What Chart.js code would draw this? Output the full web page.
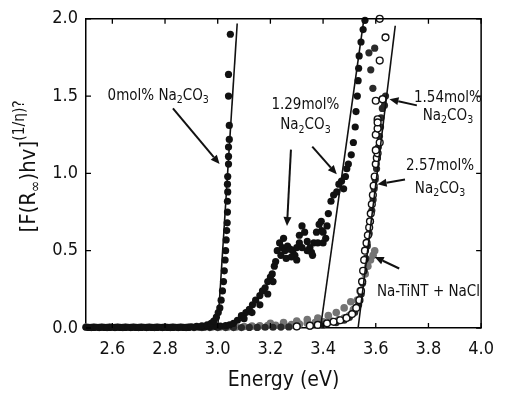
<!DOCTYPE html>
<html><head><meta charset="utf-8">
<script src="https://cdn.jsdelivr.net/npm/chart.js@4/dist/chart.umd.min.js"></script>
<style>html,body{margin:0;padding:0;background:#fff}#wrap{width:505px;height:395px}</style>
</head><body><div id="wrap"><canvas id="c" width="505" height="395"></canvas></div>
<script>
// ---------- tick labels ----------
const xTicks = [2.6,2.8,3.0,3.2,3.4,3.6,3.8,4.0];
const yTicks = [0,0.5,1.0,1.5,2.0];

// ---------- 0 mol% Na2CO3 ----------
const E0 = [2.50,2.52,2.54,2.56,2.58,2.60,2.62,2.64,2.66,2.68,
 2.70,2.72,2.74,2.76,2.78,2.80,2.82,2.84,2.86,2.88,
 2.90,2.92,2.94,2.96,2.975,2.985,2.995,3.002,3.008,3.013,
 3.018,3.022,3.025,3.028,3.03,3.032,3.034,3.036,3.037,3.037,
 3.038,3.037,3.038,3.041,3.041,3.041,3.044,3.044,3.041,3.041,
 3.048];
const V0 = [0.005,0.005,0.005,0.005,0.005,0.005,0.005,0.005,0.005,0.005,
 0.005,0.005,0.005,0.005,0.005,0.005,0.005,0.005,0.005,0.005,
 0.008,0.01,0.014,0.02,0.03,0.045,0.07,0.10,0.13,0.18,
 0.24,0.30,0.37,0.44,0.50,0.57,0.63,0.68,0.75,0.82,
 0.88,0.93,0.98,1.06,1.11,1.17,1.22,1.31,1.50,1.64,
 1.90];

// ---------- 1.29 mol% Na2CO3 ----------
const E1 = [2.51,2.53,2.55,2.57,2.59,2.61,2.63,2.65,2.67,2.69,
 2.71,2.73,2.75,2.77,2.79,2.81,2.83,2.85,2.87,2.89,
 2.91,2.93,2.95,2.97,2.99,3.01,3.03,3.045,3.06,3.075,
 3.09,3.107,3.12,3.132,3.144,3.16,3.17,3.18,3.19,3.20,
 3.207,3.215,3.22,3.226,3.235,3.245,3.255,3.265,3.275,3.285,
 3.293,3.30,3.31,3.32,3.33,3.34,3.35,3.356,3.365,3.375,
 3.385,3.393,3.40,3.41,3.415,3.42,3.43,3.44,3.452,3.46,
 3.47,3.478,3.485,3.49,3.496,3.507,3.515,3.522,3.525,3.53,
 3.533,3.535,3.537,3.544,3.552,3.559,
 3.10,3.13,3.16,3.19,3.21,3.24,3.26,3.28,3.30,3.32,
 3.34,3.36,3.38,3.40,3.25,3.31,3.395];
const V1 = [0.004,0.004,0.004,0.004,0.004,0.004,0.004,0.004,0.004,0.004,
 0.004,0.004,0.004,0.004,0.004,0.004,0.004,0.004,0.004,0.004,
 0.005,0.006,0.007,0.008,0.01,0.012,0.015,0.02,0.03,0.05,
 0.08,0.10,0.12,0.15,0.18,0.21,0.24,0.26,0.30,0.33,
 0.35,0.40,0.43,0.50,0.55,0.52,0.50,0.53,0.51,0.50,
 0.47,0.52,0.60,0.66,0.62,0.56,0.52,0.49,0.55,0.62,
 0.67,0.69,0.62,0.58,0.66,0.74,0.82,0.86,0.88,0.93,
 0.95,0.90,0.98,1.03,1.06,1.12,1.20,1.30,1.40,1.50,
 1.60,1.68,1.76,1.85,1.93,1.99,
 0.06,0.10,0.15,0.22,0.30,0.47,0.45,0.46,0.44,0.52,
 0.50,0.47,0.55,0.55,0.58,0.55,0.63];

// ---------- 1.54 mol% Na2CO3 (open circles) ----------
const E3 = [3.30,3.35,3.38,3.415,3.44,3.465,3.489,3.51,3.526,3.538,
 3.544,3.548,3.552,3.556,3.559,3.565,3.57,3.575,3.578,3.581,
 3.585,3.589,3.592,3.596,3.60,3.604,3.607,3.600,3.615,3.600,
 3.607,3.607,3.600,3.626,3.607,3.615,3.637,3.615];
const V3 = [0.01,0.015,0.02,0.03,0.04,0.05,0.065,0.09,0.13,0.18,
 0.24,0.30,0.37,0.44,0.50,0.55,0.60,0.65,0.69,0.74,
 0.80,0.86,0.92,0.98,1.06,1.10,1.13,1.15,1.20,1.25,
 1.29,1.35,1.47,1.48,1.33,1.73,1.88,2.0];

// ---------- 2.57 mol% Na2CO3 ----------
const E2 = [2.52,2.55,2.58,2.61,2.64,2.67,2.70,2.73,2.76,2.79,
 2.82,2.85,2.88,2.91,2.94,2.97,3.00,3.03,3.06,3.09,
 3.12,3.15,3.18,3.21,3.24,3.27,3.30,3.35,3.40,3.45,
 3.48,3.50,3.52,3.535,3.545,3.55,3.556,3.562,3.568,3.575,
 3.58,3.585,3.59,3.594,3.598,3.603,3.606,3.61,3.614,3.618,
 3.62,3.625,3.633,3.637,3.589,3.581,3.574,3.596];
const V2 = [0.003,0.003,0.003,0.003,0.003,0.003,0.003,0.003,0.003,0.003,
 0.003,0.003,0.003,0.003,0.003,0.003,0.003,0.003,0.003,0.003,
 0.004,0.004,0.005,0.005,0.006,0.007,0.008,0.012,0.02,0.035,
 0.05,0.07,0.10,0.15,0.22,0.29,0.37,0.45,0.53,0.61,
 0.69,0.76,0.83,0.90,0.96,1.03,1.10,1.17,1.24,1.30,
 1.36,1.42,1.44,1.50,1.55,1.67,1.78,1.81];

// ---------- Na-TiNT + NaCl ----------
const E4 = [2.50,2.53,2.56,2.59,2.62,2.65,2.68,2.71,2.74,2.77,
 2.80,2.83,2.86,2.89,2.92,2.95,2.98,3.01,3.04,3.07,
 3.10,3.13,3.16,3.19,3.22,3.25,3.28,3.31,3.34,3.37,
 3.40,3.43,3.46,3.48,3.50,3.515,3.53,3.54,3.55,3.56,
 3.57,3.58,3.59,3.596,
 3.20,3.25,3.30,3.34,3.38,3.42,3.45,3.48,3.505];
const V4 = [0.006,0.006,0.006,0.006,0.006,0.006,0.006,0.006,0.006,0.006,
 0.006,0.006,0.006,0.006,0.006,0.006,0.006,0.006,0.006,0.006,
 0.01,0.012,0.014,0.016,0.018,0.02,0.022,0.025,0.03,0.035,
 0.04,0.045,0.055,0.065,0.08,0.12,0.18,0.24,0.30,0.35,
 0.40,0.44,0.47,0.50,
 0.03,0.035,0.045,0.055,0.065,0.08,0.10,0.13,0.17];

// ---------- linear fits (end points) ----------
const fit0E = [3.0, 3.074],   fit0V = [0, 1.97];
const fit1E = [3.39, 3.555],  fit1V = [0, 2.0];
const fit2E = [3.533, 3.674], fit2V = [0, 1.955];

// ---------- annotations (data units) ----------
const noteText = ["0mol% Na_2CO_3","1.29mol%","Na_2CO_3","1.54mol%","Na_2CO_3","2.57mol%","Na_2CO_3","Na-TiNT + NaCl"];
const noteE    = [2.774, 3.333, 3.333, 3.874, 3.874, 3.844, 3.844, 3.80];
const noteV    = [1.50, 1.44, 1.31, 1.49, 1.37, 1.045, 0.90, 0.23];
const arrowFrom = [[2.83,1.42],[3.359,1.173],[3.278,1.154],[3.756,1.44],[3.711,0.96],[3.689,0.385]];
const arrowTo   = [[3.007,1.06],[3.452,0.994],[3.263,0.66],[3.652,1.48],[3.607,0.93],[3.596,0.46]];

const FAM = "'DejaVu Sans Condensed','DejaVu Sans',sans-serif";
const INK = '#111';
const pts = (E,V) => E.map((e,i)=>({x:e,y:V[i]}));

function drawRich(ctx, str, x, y, size, align){
  const parts=[];
  for(let i=0;i<str.length;i++){
    if(str[i]==='_'){parts.push({t:str[i+1],sub:true});i++;}
    else{ if(parts.length && !parts[parts.length-1].sub && !parts[parts.length-1].sup) parts[parts.length-1].t+=str[i]; else parts.push({t:str[i]}); }
  }
  return drawParts(ctx, parts, x, y, size, align);
}
function drawParts(ctx, parts, x, y, size, align){
  let w=0;
  parts.forEach(p=>{ctx.font=((p.sub||p.sup)?size*0.7:size)+'px '+FAM; p.w=ctx.measureText(p.t).width; w+=p.w;});
  let cx = align==='center'? x-w/2 : x;
  ctx.textBaseline='middle'; ctx.textAlign='left';
  parts.forEach(p=>{
    ctx.font=((p.sub||p.sup)?size*0.7:size)+'px '+FAM;
    const dy = p.sub? size*0.3 : (p.sup? -size*0.42 : 0);
    ctx.fillText(p.t, cx, y+dy); cx+=p.w;
  });
}

const decor = {
  id:'decor',
  afterDraw(chart){
    const {ctx, chartArea:a, scales:{x,y}} = chart;
    ctx.save();
    ctx.strokeStyle='#000'; ctx.lineWidth=1.5;
    ctx.beginPath();
    ctx.moveTo(a.left,a.top); ctx.lineTo(a.right,a.top); ctx.lineTo(a.right,a.bottom);
    ctx.stroke();
    ctx.lineWidth=1.3;
    ctx.beginPath();
    xTicks.forEach(v=>{const px=x.getPixelForValue(v); ctx.moveTo(px,a.bottom); ctx.lineTo(px,a.bottom-5); ctx.moveTo(px,a.top); ctx.lineTo(px,a.top+5);});
    yTicks.forEach(v=>{const py=y.getPixelForValue(v); ctx.moveTo(a.left,py); ctx.lineTo(a.left+5,py); ctx.moveTo(a.right,py); ctx.lineTo(a.right-5,py);});
    ctx.stroke();

    ctx.fillStyle=INK;
    noteText.forEach((t,i)=>drawRich(ctx,t,x.getPixelForValue(noteE[i]),y.getPixelForValue(noteV[i]),15,'center'));
    ctx.strokeStyle=INK; ctx.lineWidth=2;
    arrowFrom.forEach((f,i)=>{
      const x1=x.getPixelForValue(f[0]), y1=y.getPixelForValue(f[1]);
      const x2=x.getPixelForValue(arrowTo[i][0]), y2=y.getPixelForValue(arrowTo[i][1]);
      const ang=Math.atan2(y2-y1,x2-x1), L=9, W=4;
      const bx=x2-L*Math.cos(ang), by=y2-L*Math.sin(ang);
      ctx.beginPath(); ctx.moveTo(x1,y1); ctx.lineTo(bx,by); ctx.stroke();
      ctx.beginPath(); ctx.moveTo(x2,y2);
      ctx.lineTo(bx+W*Math.sin(ang), by-W*Math.cos(ang));
      ctx.lineTo(bx-W*Math.sin(ang), by+W*Math.cos(ang));
      ctx.closePath(); ctx.fill();
    });

    drawParts(ctx,[{t:'Energy (eV)'}],(a.left+a.right)/2,381,21,'center');
    ctx.translate(29,(a.top+a.bottom)/2 - 7);
    ctx.rotate(-Math.PI/2);
    drawParts(ctx,[{t:'[F(R'},{t:'\u221E',sub:true},{t:')hv]'},{t:'(1/\u03B7)?',sup:true}],0,0,22,'center');
    ctx.restore();
  }
};

const dot = (label,E,V,col,r)=>({label,data:pts(E,V),pointRadius:r,pointBackgroundColor:col,pointBorderColor:col,pointBorderWidth:0,clip:false});

new Chart(document.getElementById('c'),{
  type:'scatter',
  data:{datasets:[
    {type:'line',data:pts(fit0E,fit0V),borderColor:INK,borderWidth:1.6,pointRadius:0,showLine:true,fill:false},
    {type:'line',data:pts(fit1E,fit1V),borderColor:INK,borderWidth:1.6,pointRadius:0,showLine:true,fill:false},
    {type:'line',data:pts(fit2E,fit2V),borderColor:INK,borderWidth:1.6,pointRadius:0,showLine:true,fill:false},
    {label:'1.54mol% Na2CO3',data:pts(E3,V3),pointRadius:3.4,pointBackgroundColor:'#fff',pointBorderColor:INK,pointBorderWidth:1.4,clip:false},
    dot('0mol% Na2CO3',E0,V0,INK,3.6),
    dot('1.29mol% Na2CO3',E1,V1,INK,3.6),
    dot('2.57mol% Na2CO3',E2,V2,'#2a2a2a',3.6),
    dot('Na-TiNT + NaCl',E4,V4,'#747474',3.8)
  ]},
  options:{
    responsive:false, animation:false, events:[],
    layout:{padding:{left:0,right:14,top:16,bottom:0}},
    plugins:{legend:{display:false},tooltip:{enabled:false}},
    scales:{
      x:{type:'linear',min:2.5,max:4.0,
         afterBuildTicks:s=>{s.ticks=xTicks.map(v=>({value:v}));},
         afterFit:s=>{s.height=67;},
         grid:{display:false,drawTicks:false},
         border:{display:true,color:'#000',width:1.5},
         ticks:{padding:11,color:INK,font:{family:FAM,size:18},callback:v=>v.toFixed(1),maxRotation:0,autoSkip:false}},
      y:{type:'linear',min:0,max:2.0,
         afterBuildTicks:s=>{s.ticks=yTicks.map(v=>({value:v}));},
         afterFit:s=>{s.width=86;},
         grid:{display:false,drawTicks:false},
         border:{display:true,color:'#000',width:1.5},
         ticks:{padding:8,color:INK,font:{family:FAM,size:18},callback:v=>v.toFixed(1),autoSkip:false}}
    }
  },
  plugins:[decor]
});
</script></body></html>
